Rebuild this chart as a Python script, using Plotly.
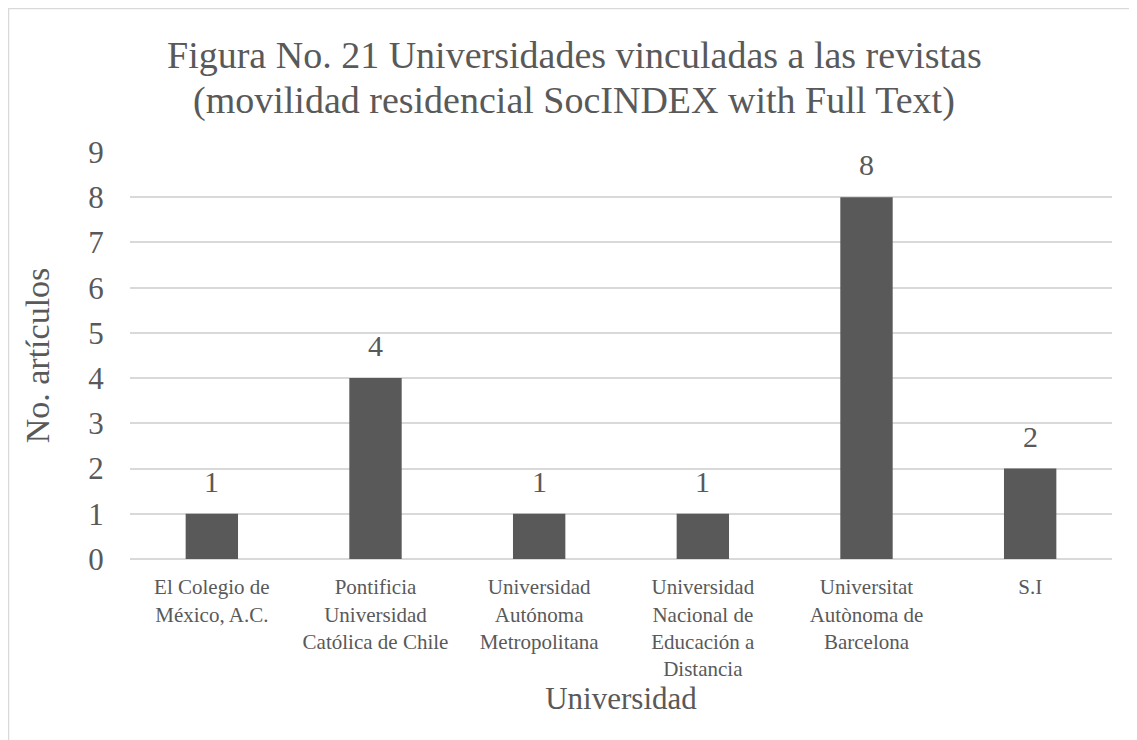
import plotly.graph_objects as go

categories = [
    "El Colegio de<br>México, A.C.",
    "Pontificia<br>Universidad<br>Católica de Chile",
    "Universidad<br>Autónoma<br>Metropolitana",
    "Universidad<br>Nacional de<br>Educación a<br>Distancia",
    "Universitat<br>Autònoma de<br>Barcelona",
    "S.I",
]
values = [1, 4, 1, 1, 8, 2]
y_ticks = list(range(0, 10))
title_line1 = "Figura No. 21 Universidades vinculadas a las revistas"
title_line2 = "(movilidad residencial SocINDEX with Full Text)"

TEXT = "#595959"
GRID = "#d9d9d9"
FONT = "Liberation Serif, Times New Roman, serif"

fig = go.Figure()
fig.add_trace(go.Bar(
    x=categories, y=values,
    marker=dict(color="#595959", line=dict(width=0)),
    width=0.32,
    hoverinfo="skip",
))

for c, v in zip(categories, values):
    fig.add_annotation(x=c, y=v, text=str(v), showarrow=False,
                       yanchor="bottom", yshift=14,
                       font=dict(family=FONT, size=30, color=TEXT))

W, H = 1137, 740
OFF = 8  # page body margin
PL, PR, PT, PB = 130 - OFF, 1112 - OFF, 152 - OFF, 559 - OFF
pw, ph = PR - PL, PB - PT
def px_x(p): return (p - OFF - PL) / pw
def px_y(p): return (PB - (p - OFF)) / ph

fig.add_shape(type="rect", xref="paper", yref="paper",
              x0=px_x(8.5), x1=px_x(W + 20), y0=px_y(W + 20), y1=px_y(8.5),
              line=dict(color=GRID, width=1.5), fillcolor="rgba(0,0,0,0)", layer="below")

# title lines, centred at x=574 px, line centres at ~y=55 and ~100 px
for txt, yc in [(title_line1, 55), (title_line2, 100)]:
    fig.add_annotation(text=txt, showarrow=False,
                       xref="paper", yref="paper",
                       x=px_x(574), y=px_y(yc), xanchor="center", yanchor="middle",
                       font=dict(family=FONT, size=38, color=TEXT))

fig.update_layout(
    width=W, height=H,
    margin=dict(l=PL, r=W - PR, t=PT, b=H - PB, autoexpand=False),
    paper_bgcolor="white", plot_bgcolor="white",
    showlegend=False,
    font=dict(family=FONT, color=TEXT),
    xaxis=dict(
        tickfont=dict(family=FONT, size=21, color=TEXT),
        showgrid=False, showline=False,
        ticks="outside", ticklen=9, tickcolor="rgba(0,0,0,0)",
        title=dict(text="Universidad", font=dict(family=FONT, size=31, color=TEXT), standoff=6),
        automargin=False,
    ),
    yaxis=dict(
        range=[0, 9], tickvals=y_ticks, ticktext=[str(t) for t in y_ticks],
        tickfont=dict(family=FONT, size=31, color=TEXT),
        showgrid=True, gridcolor=GRID, gridwidth=1.5,
        zeroline=True, zerolinecolor=GRID, zerolinewidth=1.5,
        showline=False,
        ticks="outside", ticklen=19, tickcolor="rgba(0,0,0,0)",
        title=dict(text="No. artículos", font=dict(family=FONT, size=34, color=TEXT), standoff=28),
        automargin=False,
    ),
    bargap=0.68,
)

fig.write_html("out.html")
